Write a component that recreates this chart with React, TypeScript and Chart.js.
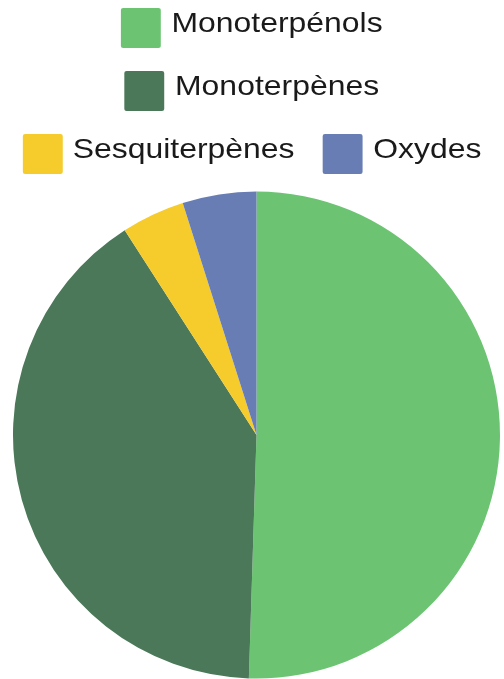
import React, { useEffect, useRef } from "react";
import { Chart, registerables } from "chart.js";

Chart.register(...registerables);

const categories = ["Monoterpénols", "Monoterpènes", "Sesquiterpènes", "Oxydes"];
const values = [50.5, 40.4, 4.2, 4.9];
const colors = ["#6CC473", "#4A7858", "#F5CC2C", "#687DB4"];

export default function App() {
  const canvasRef = useRef<HTMLCanvasElement | null>(null);

  useEffect(() => {
    document.body.style.margin = "0";
    const canvas = canvasRef.current;
    if (!canvas) return;
    const chart = new Chart(canvas, {
      type: "pie",
      data: {
        labels: categories,
        datasets: [
          {
            data: values,
            backgroundColor: colors,
            borderWidth: 0,
          },
        ],
      },
      options: {
        responsive: false,
        animation: false,
        layout: { padding: { top: 190, left: 13, right: 4, bottom: 0 } },
        plugins: {
          legend: { display: false },
          tooltip: { enabled: false },
        },
      },
    });
    return () => chart.destroy();
  }, []);

  return (
    <div style={{ position: "relative", width: 504, height: 679, overflow: "hidden", background: "#fff" }}>
      <canvas ref={canvasRef} width={504} height={680} style={{ position: "absolute", left: 0, top: 0 }} />
      <div
        style={{
          position: "absolute",
          left: 31,
          top: 8,
          width: 442,
          display: "flex",
          flexWrap: "wrap",
          justifyContent: "center",
          columnGap: 25,
          rowGap: 23,
          transform: "scaleX(1.14)",
          transformOrigin: "center top",
          fontFamily: "'Liberation Sans', Arial, sans-serif",
          fontSize: 28,
          color: "#1a1a1a",
        }}
      >
        {categories.map((c, i) => (
          <div key={c} style={{ display: "flex", alignItems: "center", height: 40 }}>
            <div style={{ width: 35, height: 40, background: colors[i], borderRadius: 2 }} />
            <span style={{ marginLeft: 9, position: "relative", top: -5, whiteSpace: "nowrap" }}>{c}</span>
          </div>
        ))}
      </div>
    </div>
  );
}
